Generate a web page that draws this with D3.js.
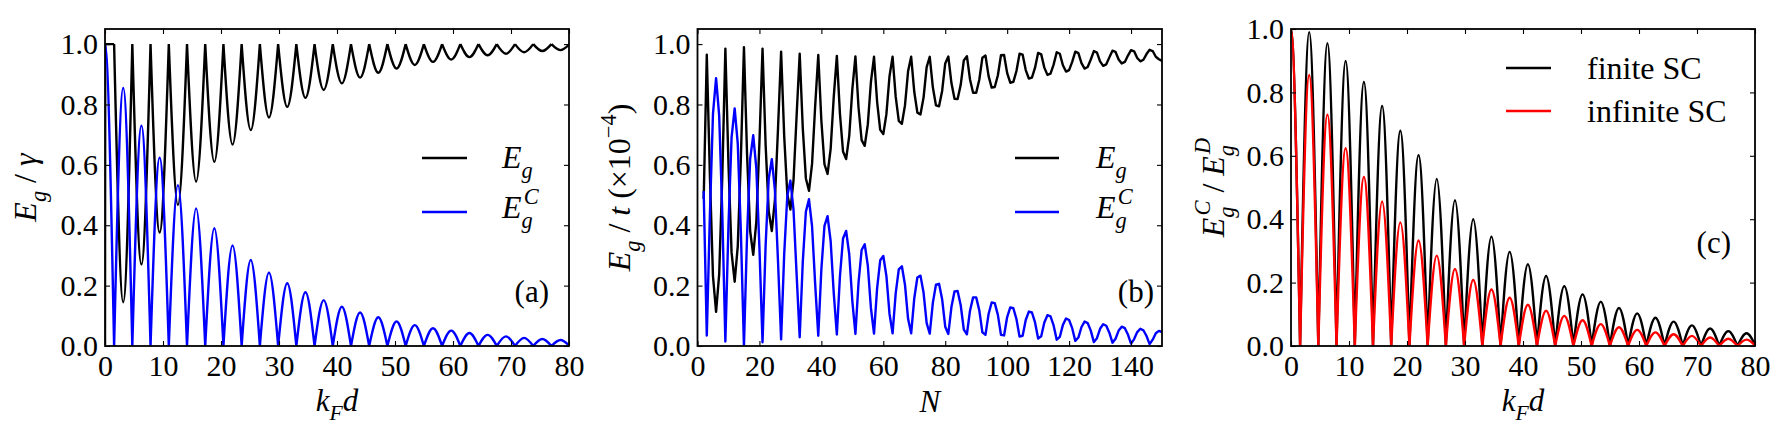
<!DOCTYPE html>
<html><head><meta charset="utf-8">
<script src="https://cdn.jsdelivr.net/npm/d3@7"></script>
<style>
body{margin:0;background:#fff}
svg{display:block}
</style>
</head><body>
<svg id="chart" width="1785" height="435"></svg>
<script>
// ---------------- data ----------------
// k_F d panels: arch centres (peaks of |E_g^C|) and the zeros between them
const kfdPeakX = [0, 3.14, 6.28, 9.42, 12.57, 15.71, 18.85, 21.99, 25.13, 28.27, 31.42, 34.56, 37.70,
  40.84, 43.98, 47.12, 50.27, 53.41, 56.55, 59.69, 62.83, 65.97, 69.12, 72.26, 75.40, 78.54];
const kfdZeroX = [-1.57, 1.57, 4.71, 7.85, 11.00, 14.14, 17.28, 20.42, 23.56, 26.70, 29.85, 32.99, 36.13,
  39.27, 42.41, 45.55, 48.69, 51.84, 54.98, 58.12, 61.26, 64.40, 67.54, 70.69, 73.83, 76.97, 80.11];

// panel (a): E_g^C peak heights, E_g trough depths (troughs start at the 2nd centre)
const aEgCPeak = [1.0, 0.855, 0.730, 0.624, 0.533, 0.456, 0.390, 0.333, 0.285, 0.243, 0.208, 0.178, 0.152,
  0.130, 0.111, 0.095, 0.081, 0.069, 0.059, 0.051, 0.043, 0.037, 0.032, 0.027, 0.023, 0.020];
const aEgTrough = [0.145, 0.270, 0.376, 0.467, 0.544, 0.610, 0.667, 0.715, 0.757, 0.792, 0.822, 0.848,
  0.870, 0.889, 0.905, 0.919, 0.931, 0.941, 0.949, 0.957, 0.963, 0.968, 0.973, 0.977, 0.980];
const aEgStartX = [0, 0.04, 1.57];
const aEgStartY = [0, 1.0, 1.0];

// panel (b): values versus N = 2 ... 150
const bN = d3.range(2, 151);
const bEgC = [0.513, 0.035, 0.434, 0.769, 0.887, 0.763, 0.442, 0.015, 0.398, 0.690,
  0.787, 0.670, 0.380, 0.000, 0.365, 0.619, 0.698, 0.588, 0.326, 0.012,
  0.334, 0.554, 0.619, 0.516, 0.280, 0.022, 0.305, 0.497, 0.548, 0.452,
  0.239, 0.029, 0.279, 0.445, 0.486, 0.396, 0.205, 0.034, 0.254, 0.398,
  0.430, 0.347, 0.175, 0.038, 0.231, 0.356, 0.381, 0.304, 0.149, 0.040,
  0.210, 0.318, 0.337, 0.266, 0.126, 0.041, 0.191, 0.284, 0.298, 0.232,
  0.107, 0.042, 0.174, 0.254, 0.264, 0.203, 0.090, 0.042, 0.158, 0.227,
  0.233, 0.177, 0.076, 0.041, 0.143, 0.203, 0.206, 0.155, 0.064, 0.040,
  0.129, 0.181, 0.182, 0.135, 0.054, 0.039, 0.117, 0.161, 0.161, 0.118,
  0.045, 0.037, 0.106, 0.144, 0.142, 0.103, 0.037, 0.035, 0.096, 0.128,
  0.125, 0.089, 0.031, 0.034, 0.086, 0.114, 0.111, 0.078, 0.025, 0.032,
  0.078, 0.102, 0.098, 0.068, 0.021, 0.030, 0.070, 0.091, 0.086, 0.059,
  0.017, 0.028, 0.063, 0.081, 0.076, 0.051, 0.013, 0.026, 0.057, 0.072,
  0.067, 0.044, 0.011, 0.024, 0.051, 0.064, 0.059, 0.038, 0.008, 0.023,
  0.046, 0.057, 0.052, 0.033, 0.006, 0.021, 0.042, 0.050, 0.046];
const bEg = [0.487, 0.965, 0.566, 0.231, 0.113, 0.237, 0.558, 0.985, 0.602, 0.310,
  0.213, 0.330, 0.620, 0.990, 0.635, 0.381, 0.302, 0.412, 0.674, 0.985,
  0.666, 0.446, 0.381, 0.484, 0.720, 0.975, 0.695, 0.503, 0.452, 0.548,
  0.761, 0.968, 0.721, 0.555, 0.514, 0.604, 0.795, 0.964, 0.746, 0.602,
  0.570, 0.653, 0.825, 0.961, 0.769, 0.644, 0.619, 0.696, 0.851, 0.959,
  0.790, 0.682, 0.663, 0.734, 0.874, 0.958, 0.809, 0.716, 0.702, 0.768,
  0.893, 0.958, 0.826, 0.746, 0.736, 0.797, 0.910, 0.958, 0.842, 0.773,
  0.767, 0.823, 0.924, 0.958, 0.857, 0.797, 0.794, 0.845, 0.936, 0.959,
  0.871, 0.819, 0.818, 0.865, 0.946, 0.960, 0.883, 0.839, 0.839, 0.882,
  0.955, 0.962, 0.894, 0.856, 0.858, 0.897, 0.963, 0.964, 0.904, 0.872,
  0.875, 0.911, 0.968, 0.965, 0.914, 0.886, 0.889, 0.922, 0.971, 0.966,
  0.922, 0.898, 0.902, 0.932, 0.973, 0.968, 0.930, 0.909, 0.914, 0.941,
  0.975, 0.970, 0.937, 0.919, 0.924, 0.949, 0.977, 0.972, 0.943, 0.928,
  0.933, 0.956, 0.978, 0.974, 0.949, 0.936, 0.941, 0.962, 0.980, 0.976,
  0.954, 0.943, 0.948, 0.967, 0.981, 0.977, 0.958, 0.950, 0.944];

// panel (c): E_g^C / E_g^D peak heights
const cFinitePeak = [1.0, 0.990, 0.955, 0.899, 0.833, 0.757, 0.679, 0.602, 0.527, 0.460, 0.400, 0.345, 0.297,
  0.258, 0.221, 0.189, 0.163, 0.140, 0.120, 0.103, 0.089, 0.077, 0.065, 0.055, 0.047, 0.040];
const cInfinitePeak = [1.0, 0.855, 0.730, 0.624, 0.533, 0.456, 0.390, 0.333, 0.285, 0.243, 0.208, 0.178, 0.152,
  0.130, 0.111, 0.095, 0.081, 0.069, 0.059, 0.051, 0.043, 0.037, 0.032, 0.027, 0.023, 0.020];

// ticks
const kfdTicks = [0, 10, 20, 30, 40, 50, 60, 70, 80];
const nTicks = [0, 20, 40, 60, 80, 100, 120, 140];
const yTicks = [0, 0.2, 0.4, 0.6, 0.8, 1.0];

// ---------------- drawing ----------------
const FONT = "'Liberation Serif', serif";
const svg = d3.select('#chart');
const YB = 346, YT = 29;
const LW = 2.4;

function mathText(sel, parts, fs) {
  sel.style('font-family', FONT).style('font-size', fs + 'px');
  let cur = 0;
  parts.forEach(p => {
    const target = p.sub ? 0.3 * fs : (p.sup ? -0.45 * fs : 0);
    const ts = sel.append('tspan').text(p.t)
      .attr('dy', target - cur)
      .style('font-family', FONT)
      .style('font-style', p.it ? 'italic' : 'normal')
      .style('font-size', ((p.sub || p.sup) ? 0.7 * fs : fs) + 'px');
    if (p.dx !== undefined) ts.attr('dx', p.dx);
    cur = target;
  });
}

function archPath(x, y, centers, zeros, vals, base) {
  const line = d3.line().x(d => x(d[0])).y(d => y(d[1])).curve(d3.curveNatural);
  return centers.map((c, i) => line([[zeros[i], base], [c, vals[i]], [zeros[i + 1], base]])).join('');
}

function panel(o) {
  const x = d3.scaleLinear().domain(o.xDomain).range([o.x0, o.x1]);
  const y = d3.scaleLinear().domain(o.yDomain).range([YB, YT]);
  const g = svg.append('g');
  const clipId = 'clip-' + o.id;
  svg.append('clipPath').attr('id', clipId).append('rect')
    .attr('x', o.x0).attr('y', YT).attr('width', o.x1 - o.x0).attr('height', YB - YT);
  const plot = g.append('g').attr('clip-path', 'url(#' + clipId + ')');
  o.draw(plot, x, y);

  g.append('g').attr('transform', 'translate(0,' + YB + ')')
    .call(d3.axisBottom(x).tickValues(o.xTicks).tickSize(-5).tickPadding(9).tickFormat(d3.format('d')));
  g.append('g').attr('transform', 'translate(0,' + YT + ')')
    .call(d3.axisTop(x).tickValues(o.xTicks).tickSize(-5).tickFormat(''));
  g.append('g').attr('transform', 'translate(' + o.x0 + ',0)')
    .call(d3.axisLeft(y).tickValues(yTicks).tickSize(-5).tickPadding(7).tickFormat(d3.format('.1f')));
  g.append('g').attr('transform', 'translate(' + o.x1 + ',0)')
    .call(d3.axisRight(y).tickValues(yTicks).tickSize(-5).tickFormat(''));
  g.selectAll('.domain').remove();
  g.selectAll('.tick line').attr('stroke', '#000').attr('stroke-width', 1.1);
  g.selectAll('.tick text').style('font-family', FONT).style('font-size', '30px').attr('fill', '#000');
  g.append('rect').attr('x', o.x0).attr('y', YT).attr('width', o.x1 - o.x0).attr('height', YB - YT)
    .attr('fill', 'none').attr('stroke', '#000').attr('stroke-width', 1.8);

  const xt = g.append('text').attr('text-anchor', 'middle')
    .attr('x', (o.x0 + o.x1) / 2).attr('y', o.xTitleY);
  mathText(xt, o.xTitle, 31);
  const yt = g.append('text').attr('text-anchor', 'middle')
    .attr('transform', 'translate(' + o.yTitleX + ',' + ((YT + YB) / 2) + ') rotate(-90)');
  mathText(yt, o.yTitle, 32);

  o.legend.forEach(L => {
    g.append('line').attr('x1', L.x1).attr('x2', L.x2).attr('y1', L.y).attr('y2', L.y)
      .attr('stroke', L.color).attr('stroke-width', LW);
    const t = g.append('text').attr('x', L.tx).attr('y', L.ty);
    mathText(t, L.parts, L.fs || 32);
  });
  g.append('text').style('font-family', FONT).style('font-size', '31px').attr('text-anchor', 'end')
    .attr('x', o.tagX).attr('y', o.tagY).text(o.tag);
}

const EG = [{t: 'E', it: true}, {t: 'g', it: true, sub: true}];
const EGC = [{t: 'E', it: true}, {t: 'g', it: true, sub: true}, {t: 'C', it: true, sup: true, dx: -9}];
const EGD = [{t: 'E', it: true}, {t: 'g', it: true, sub: true}, {t: 'D', it: true, sup: true, dx: -9}];
const KFD = [{t: 'k', it: true}, {t: 'F', it: true, sub: true}, {t: 'd', it: true}];

panel({
  id: 'a', x0: 105, x1: 569, xDomain: [0, 80], yDomain: [0, 1.05], xTicks: kfdTicks,
  xTitle: KFD, xTitleY: 411, yTitleX: 36,
  yTitle: EG.concat([{t: ' / '}, {t: 'γ', it: true}]),
  tag: '(a)', tagX: 549, tagY: 302,
  legend: [
    {x1: 422, x2: 467, y: 158, color: '#000', tx: 502, ty: 168, parts: EG},
    {x1: 422, x2: 467, y: 212, color: '#0000ff', tx: 502, ty: 218, parts: EGC}
  ],
  draw(plot, x, y) {
    const lin = d3.line().x(d => x(d[0])).y(d => y(d[1]));
    plot.append('path').attr('d',
        lin(aEgStartX.map((v, i) => [v, aEgStartY[i]])) +
        archPath(x, y, kfdPeakX.slice(1), kfdZeroX.slice(1), aEgTrough, 1.0))
      .attr('fill', 'none').attr('stroke', '#000').attr('stroke-width', LW).attr('stroke-linejoin', 'round');
    plot.append('path').attr('d', archPath(x, y, kfdPeakX, kfdZeroX, aEgCPeak, 0))
      .attr('fill', 'none').attr('stroke', '#0000ff').attr('stroke-width', LW).attr('stroke-linejoin', 'round');
  }
});

panel({
  id: 'b', x0: 697.5, x1: 1162, xDomain: [0, 150], yDomain: [0, 1.05], xTicks: nTicks,
  xTitle: [{t: 'N', it: true}], xTitleY: 412, yTitleX: 630,
  yTitle: EG.concat([{t: ' / '}, {t: 't', it: true}, {t: ' (×10'}, {t: '−4', sup: true}, {t: ')'}]),
  tag: '(b)', tagX: 1154, tagY: 302,
  legend: [
    {x1: 1015, x2: 1059, y: 158, color: '#000', tx: 1096, ty: 168, parts: EG},
    {x1: 1015, x2: 1059, y: 212, color: '#0000ff', tx: 1096, ty: 218, parts: EGC}
  ],
  draw(plot, x, y) {
    const lin = d3.line().x(d => x(d[0])).y(d => y(d[1]));
    plot.append('path').attr('d', lin(bN.map((n, i) => [n, bEg[i]])))
      .attr('fill', 'none').attr('stroke', '#000').attr('stroke-width', LW).attr('stroke-linejoin', 'round');
    plot.append('path').attr('d', lin(bN.map((n, i) => [n, bEgC[i]])))
      .attr('fill', 'none').attr('stroke', '#0000ff').attr('stroke-width', LW).attr('stroke-linejoin', 'round');
  }
});

panel({
  id: 'c', x0: 1291, x1: 1755, xDomain: [0, 80], yDomain: [0, 1.0], xTicks: kfdTicks,
  xTitle: KFD, xTitleY: 411, yTitleX: 1224,
  yTitle: EGC.concat([{t: ' / '}]).concat(EGD),
  tag: '(c)', tagX: 1731, tagY: 253,
  legend: [
    {x1: 1506, x2: 1551, y: 68, color: '#000', tx: 1587, ty: 79, parts: [{t: 'finite SC'}]},
    {x1: 1506, x2: 1551, y: 111, color: '#ff0000', tx: 1587, ty: 122, parts: [{t: 'infinite SC'}]}
  ],
  draw(plot, x, y) {
    plot.append('path').attr('d', archPath(x, y, kfdPeakX, kfdZeroX, cFinitePeak, 0))
      .attr('fill', 'none').attr('stroke', '#000').attr('stroke-width', LW).attr('stroke-linejoin', 'round');
    plot.append('path').attr('d', archPath(x, y, kfdPeakX, kfdZeroX, cInfinitePeak, 0))
      .attr('fill', 'none').attr('stroke', '#ff0000').attr('stroke-width', LW).attr('stroke-linejoin', 'round');
  }
});
</script>
</body></html>
